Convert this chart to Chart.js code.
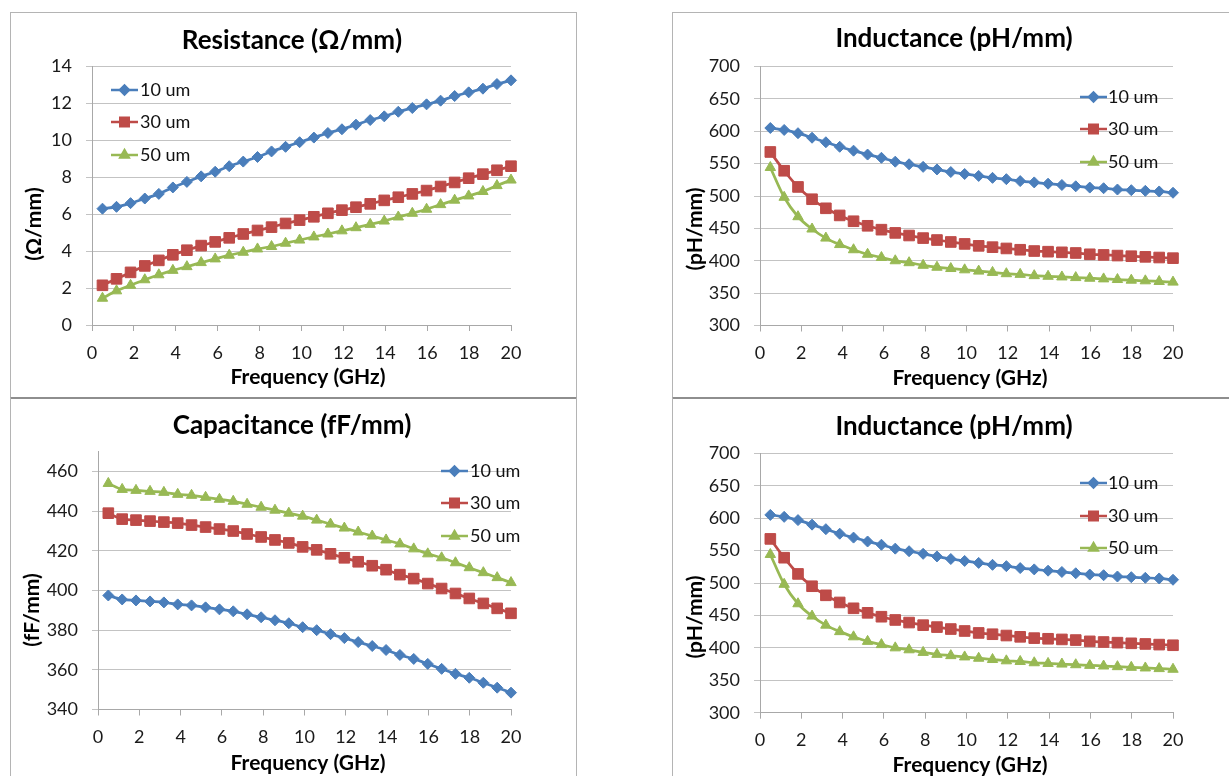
<!DOCTYPE html>
<html>
<head>
<meta charset="utf-8">
<title>Line parameters vs frequency</title>
<script src="https://cdn.jsdelivr.net/npm/chart.js@4.4.1/dist/chart.umd.min.js"></script>
<style>
  html, body { margin: 0; padding: 0; background: #fff; }
  body { width: 1229px; height: 776px; position: relative; overflow: hidden; }
  .panel { position: absolute; box-sizing: border-box; border: 1px solid #b4b4b4; }
  canvas { position: absolute; }
</style>
</head>
<body>
<div class="panel" style="left:10px;top:12px;width:567px;height:387px;border-bottom:2px solid #8e8e8e"></div>
<div class="panel" style="left:10px;top:398px;width:567px;height:400px;border-top:none"></div>
<div class="panel" style="left:672px;top:12px;width:600px;height:387px;border-bottom:2px solid #8e8e8e"></div>
<div class="panel" style="left:672px;top:398px;width:600px;height:400px;border-top:none"></div>

<canvas id="resistance"></canvas>
<canvas id="inductanceTop"></canvas>
<canvas id="capacitance"></canvas>
<canvas id="inductanceBottom"></canvas>

<script>
// ---- data ----
const seriesNames = ['10 um', '30 um', '50 um'];
const freqGHz = [0.5, 1.17, 1.84, 2.52, 3.19, 3.86, 4.53, 5.21, 5.88, 6.55,
                 7.22, 7.90, 8.57, 9.24, 9.91, 10.59, 11.26, 11.93, 12.60, 13.28,
                 13.95, 14.62, 15.29, 15.97, 16.64, 17.31, 17.98, 18.66, 19.33, 20.0];
const freqTicks = [0, 2, 4, 6, 8, 10, 12, 14, 16, 18, 20];

const resistance10 = [6.3, 6.4, 6.6, 6.85, 7.1, 7.45, 7.75, 8.05, 8.3, 8.6, 8.85, 9.1, 9.4, 9.65, 9.9,
                      10.15, 10.4, 10.6, 10.85, 11.1, 11.3, 11.55, 11.75, 11.95, 12.15, 12.4, 12.6, 12.8, 13.05, 13.25];
const resistance30 = [2.15, 2.5, 2.85, 3.2, 3.5, 3.8, 4.05, 4.3, 4.5, 4.72, 4.93, 5.12, 5.3, 5.5, 5.68,
                      5.86, 6.05, 6.22, 6.38, 6.56, 6.75, 6.92, 7.1, 7.28, 7.5, 7.72, 7.95, 8.17, 8.38, 8.6];
const resistance50 = [1.45, 1.85, 2.15, 2.45, 2.72, 2.96, 3.16, 3.38, 3.58, 3.78, 3.94, 4.12, 4.25, 4.43, 4.6,
                      4.77, 4.93, 5.1, 5.27, 5.45, 5.63, 5.85, 6.05, 6.27, 6.52, 6.76, 6.99, 7.23, 7.55, 7.85];
const resistanceTicks = [0, 2, 4, 6, 8, 10, 12, 14];

const inductance10 = [605, 602, 597, 590, 583, 576, 570, 564, 559, 553, 549, 545, 541, 537, 534,
                      531, 528, 526, 523, 521, 519, 517, 515, 513, 512, 510, 509, 508, 507, 505];
const inductance30 = [568, 539, 514, 495, 481, 470, 461, 454, 448, 443, 439, 435, 432, 429, 426,
                      423, 421, 419, 417, 415, 414, 413, 412, 410, 409, 408, 407, 406, 405, 404];
const inductance50 = [544, 498, 468, 449, 435, 425, 417, 410, 405, 400, 397, 393, 390, 388, 386,
                      384, 382, 380, 379, 377, 376, 375, 374, 373, 372, 371, 370, 369, 368, 367];
const inductanceTicks = [300, 350, 400, 450, 500, 550, 600, 650, 700];

const capacitance10 = [397.5, 395.5, 395, 394.5, 394, 393, 392.5, 391.5, 390.5, 389.5, 388, 386.5, 385, 383.5, 381.5,
                       380, 378, 376, 374, 372, 370, 367.5, 365.5, 363, 360.5, 358, 356, 353.5, 351, 348.5];
const capacitance30 = [439, 436, 435.5, 435, 434.5, 434, 433, 432, 431, 430, 428.5, 427, 425.5, 424, 422,
                       420.5, 418.5, 416.5, 414.5, 412.5, 410.5, 408, 406, 403.5, 401, 398.5, 396, 393.5, 391, 388.5];
const capacitance50 = [454, 451, 450.5, 450, 449.5, 448.5, 448, 447, 446, 445, 443.5, 442, 440.5, 439, 437.5,
                       435.5, 433.5, 431.5, 429.5, 427.5, 425.5, 423.5, 421, 418.5, 416.5, 414, 411.5, 409, 406.5, 404];
const capacitanceTicks = [340, 360, 380, 400, 420, 440, 460];

// ---- look ----
const FONT = 'Lato, "Open Sans", sans-serif';
const seriesColors = ['#4a7ebb', '#be4b48', '#98b954'];
const seriesPoints = [
  { pointStyle: 'rectRot', pointRadius: 5.5 },
  { pointStyle: 'rect', pointRadius: 7.5 },
  { pointStyle: 'triangle', pointRadius: 6 },
];
const gridColor = '#c3c3c3';
const axisColor = '#a8a8a8';

// titles, axis titles and the in-plot legend, placed in page pixels
const panelText = {
  id: 'panelText',
  afterDraw(chart, args, o) {
    const ctx = chart.ctx;
    const ox = o.canvasAt[0], oy = o.canvasAt[1];
    ctx.save();
    ctx.fillStyle = '#000';
    ctx.textAlign = 'center';
    ctx.textBaseline = 'middle';

    ctx.font = 'bold 26px ' + FONT;
    ctx.fillText(o.title, o.titleAt[0] - ox, o.titleAt[1] - oy);

    ctx.font = 'bold 21px ' + FONT;
    ctx.fillText('Frequency (GHz)', o.xTitleAt[0] - ox, o.xTitleAt[1] - oy);

    ctx.save();
    ctx.translate(o.yTitleAt[0] - ox, o.yTitleAt[1] - oy);
    ctx.rotate(-Math.PI / 2);
    ctx.fillText(o.yTitle, 0, 0);
    ctx.restore();

    // legend: short line with the marker in its middle, then the name
    chart.data.datasets.forEach((ds, i) => {
      const y = o.legendY[i] - oy;
      const x0 = o.legendX[0] - ox, x1 = o.legendX[1] - ox;
      ctx.strokeStyle = ds.borderColor;
      ctx.fillStyle = ds.borderColor;
      ctx.lineWidth = 2.5;
      ctx.beginPath();
      ctx.moveTo(x0, y);
      ctx.lineTo(x1, y);
      ctx.stroke();
      Chart.helpers.drawPoint(ctx, {
        pointStyle: ds.pointStyle,
        radius: ds.pointRadius * 0.8,
        borderWidth: 1,
        rotation: 0,
      }, (x0 + x1) / 2, y);
      ctx.fillStyle = '#111';
      ctx.textAlign = 'left';
      ctx.font = '18px ' + FONT;
      ctx.fillText(ds.label, o.legendX[2] - ox, y);
    });
    ctx.restore();
  }
};

function makeChart(id, cv, area, yTicks, series, text) {
  const el = document.getElementById(id);
  el.width = cv.w;
  el.height = cv.h;
  el.style.left = cv.x + 'px';
  el.style.top = cv.y + 'px';

  const datasets = series.map((vals, i) => ({
    label: seriesNames[i],
    data: freqGHz.map((f, k) => ({ x: f, y: vals[k] })),
    borderColor: seriesColors[i],
    backgroundColor: seriesColors[i],
    pointBackgroundColor: seriesColors[i],
    pointBorderColor: seriesColors[i],
    borderWidth: 2.75,
    pointBorderWidth: 1,
    pointStyle: seriesPoints[i].pointStyle,
    pointRadius: seriesPoints[i].pointRadius,
    cubicInterpolationMode: 'monotone',
    clip: false,
  }));

  const tickFont = { family: FONT, size: 18 };

  return new Chart(el, {
    type: 'line',
    data: { datasets },
    plugins: [panelText],
    options: {
      responsive: false,
      animation: false,
      events: [],
      layout: {
        padding: {
          left: 0,
          bottom: 0,
          top: area.top - cv.y,
          right: cv.x + cv.w - area.right,
        }
      },
      plugins: {
        legend: { display: false },
        title: { display: false },
        tooltip: { enabled: false },
        panelText: Object.assign({ canvasAt: [cv.x, cv.y] }, text),
      },
      scales: {
        x: {
          type: 'linear',
          min: freqTicks[0],
          max: freqTicks[freqTicks.length - 1],
          afterBuildTicks: s => { s.ticks = freqTicks.map(v => ({ value: v })); },
          afterFit: s => { s.height = cv.y + cv.h - area.bottom; },
          grid: { drawOnChartArea: false, tickLength: 6, color: axisColor },
          border: { color: axisColor },
          ticks: { padding: 11, font: tickFont, color: '#1a1a1a', maxRotation: 0 },
        },
        y: {
          type: 'linear',
          min: yTicks[0],
          max: area.yMax,
          afterBuildTicks: s => { s.ticks = yTicks.map(v => ({ value: v })); },
          afterFit: s => { s.width = area.left - cv.x; },
          grid: { color: gridColor, tickLength: 6 },
          border: { color: axisColor },
          ticks: { padding: 14, font: tickFont, color: '#1a1a1a' },
        },
      },
    },
  });
}

makeChart('resistance',
  { x: 11, y: 13, w: 565, h: 383 },
  { left: 92, right: 511, top: 66.5, bottom: 325, yMax: 14 },
  resistanceTicks, [resistance10, resistance30, resistance50],
  { title: 'Resistance (Ω/mm)', titleAt: [292, 41], yTitle: '(Ω/mm)', yTitleAt: [34, 224],
    xTitleAt: [308, 377], legendX: [111, 138, 140], legendY: [90, 122, 155] });

makeChart('inductanceTop',
  { x: 673, y: 13, w: 556, h: 383 },
  { left: 760, right: 1173, top: 66.5, bottom: 325.5, yMax: 700 },
  inductanceTicks, [inductance10, inductance30, inductance50],
  { title: 'Inductance (pH/mm)', titleAt: [954, 39], yTitle: '(pH/mm)', yTitleAt: [695, 229],
    xTitleAt: [970, 378], legendX: [1080, 1107, 1108], legendY: [97, 129, 162] });

makeChart('capacitance',
  { x: 11, y: 399, w: 565, h: 377 },
  { left: 98, right: 511, top: 451.7, bottom: 709.5, yMax: 470 },
  capacitanceTicks, [capacitance10, capacitance30, capacitance50],
  { title: 'Capacitance (fF/mm)', titleAt: [292, 426], yTitle: '(fF/mm)', yTitleAt: [32, 610],
    xTitleAt: [308, 763], legendX: [441, 468, 470], legendY: [471, 503, 536] });

makeChart('inductanceBottom',
  { x: 673, y: 399, w: 556, h: 377 },
  { left: 760, right: 1173, top: 453.3, bottom: 712.7, yMax: 700 },
  inductanceTicks, [inductance10, inductance30, inductance50],
  { title: 'Inductance (pH/mm)', titleAt: [954, 427], yTitle: '(pH/mm)', yTitleAt: [695, 617],
    xTitleAt: [970, 765], legendX: [1080, 1107, 1108], legendY: [483, 516, 548] });
</script>
</body>
</html>
